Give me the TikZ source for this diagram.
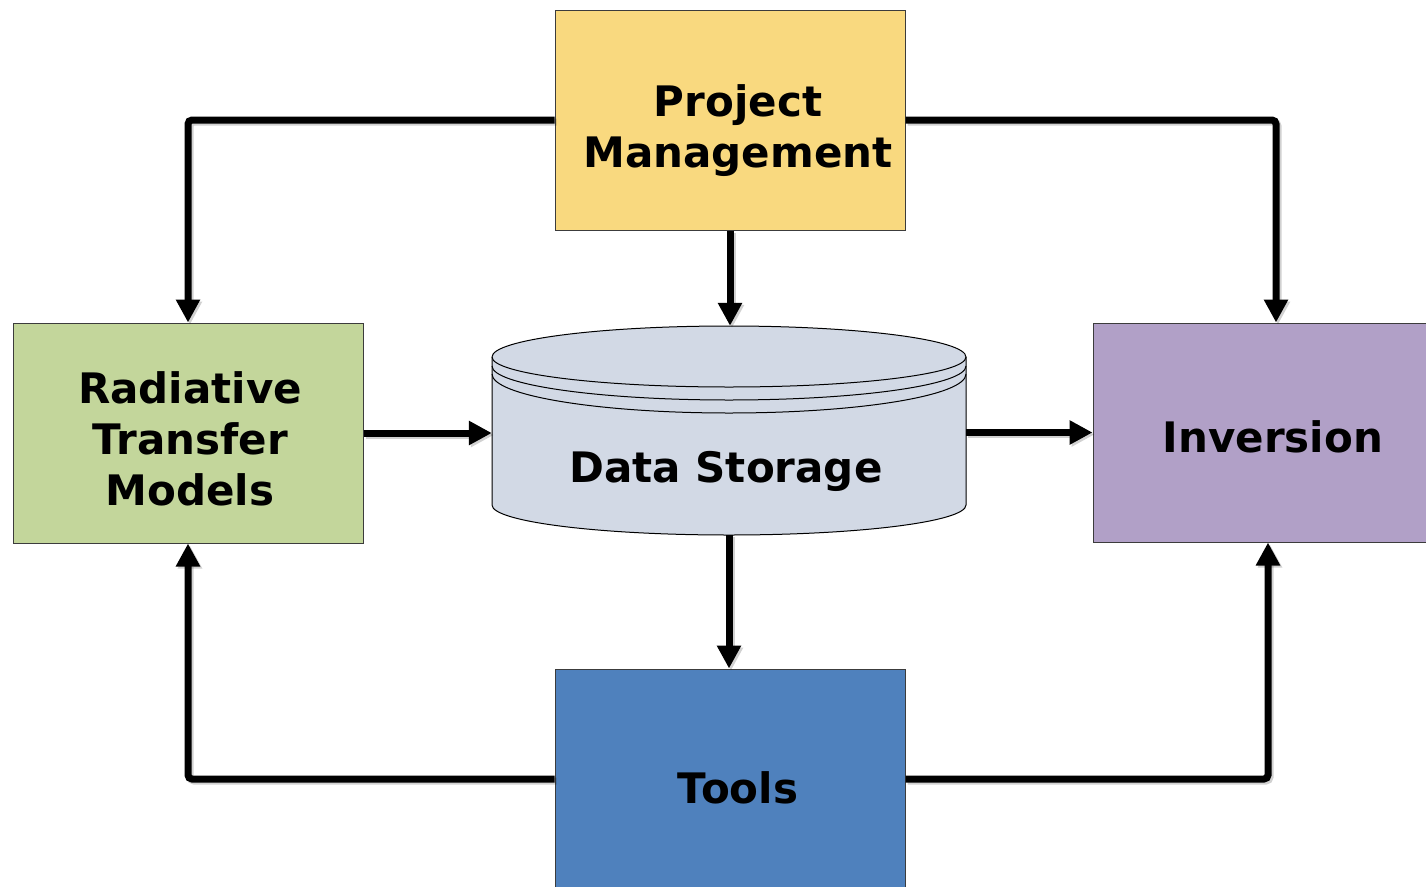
\documentclass[tikz,border=0pt]{standalone}
\usepackage{fontspec}
\setmainfont{DejaVu Sans}
\usetikzlibrary{arrows.meta}

\definecolor{pmfill}{HTML}{F9D97F}
\definecolor{rtmfill}{HTML}{C3D69B}
\definecolor{invfill}{HTML}{B1A0C7}
\definecolor{toolfill}{HTML}{4F81BD}
\definecolor{dsfill}{HTML}{D2D9E5}
\definecolor{edge}{HTML}{3C3C3C}

\tikzset{
  box/.style={draw=edge, line width=1pt, minimum width=350pt, minimum height=220pt,
              inner sep=0pt},
  lbl/.style={inner sep=0pt, align=center, font=\fontsize{42}{51}\selectfont\bfseries},
  arr/.style={line width=7pt, rounded corners=4pt,
              -{Triangle[width=23pt,length=23pt]},
              preaction={draw=black, opacity=0.18, line width=7pt,
                         transform canvas={xshift=2pt,yshift=-2pt}}},
}

\begin{document}
\begin{tikzpicture}[x=1pt,y=1pt]
\useasboundingbox (0,0) rectangle (1426,-886);
\clip (0,0) rectangle (1426,-886);

% the four blocks
\node[box, fill=pmfill,
      label={[lbl, xshift=8pt, yshift=-11pt]center:{Project\\Management}}] (pm) at (730,-120) {};
\node[box, fill=rtmfill,
      label={[lbl, xshift=2pt, yshift=-6pt]center:{Radiative\\Transfer\\Models}}] (rtm) at (188,-433) {};
\node[box, fill=invfill, minimum width=366pt, minimum height=219pt,
      label={[lbl, xshift=-3pt, yshift=-4pt]center:Inversion}] (inv) at (1276,-432.5) {};
\node[box, fill=toolfill,
      label={[lbl, xshift=8pt, yshift=-9pt]center:Tools}] (tools) at (730,-779) {};

% data storage drum
\node[minimum width=474pt, minimum height=209pt, inner sep=0pt] (ds) at (729,-430.5) {};
\coordinate (dsl) at (492,-357);
\fill[dsfill] (dsl) arc[start angle=180, end angle=0, x radius=237pt, y radius=31pt]
  -- (966,-505) arc[start angle=0, end angle=-180, x radius=237pt, y radius=30pt] -- cycle;
\draw[line width=1pt] (dsl) arc[start angle=180, end angle=0, x radius=237pt, y radius=31pt]
  -- (966,-505) arc[start angle=0, end angle=-180, x radius=237pt, y radius=30pt] -- cycle;
\draw[line width=1pt] (dsl) arc[start angle=180, end angle=360, x radius=237pt, y radius=30pt];
\draw[line width=1pt] (492,-366) arc[start angle=180, end angle=360, x radius=237pt, y radius=34pt];
\draw[line width=1pt] (492,-374) arc[start angle=180, end angle=360, x radius=237pt, y radius=39pt];
\node[lbl] (dst) at (726,-471) {Data Storage};

% connectors
\draw[arr] (pm.west) -| (rtm.north);
\draw[arr] (pm.east) -| (inv.north);
\draw[arr] (pm.south) -- (pm.south |- ds.north);
\draw[arr] (rtm.east) -- (rtm.east -| ds.west);
\draw[arr] (ds.east |- inv.west) -- (inv.west);
\draw[arr] (ds.south) -- (ds.south |- tools.north);
\draw[arr] (tools.west) -| (rtm.south);
\draw[arr] (tools.east) -| ([xshift=-8pt]inv.south);
\end{tikzpicture}
\end{document}
